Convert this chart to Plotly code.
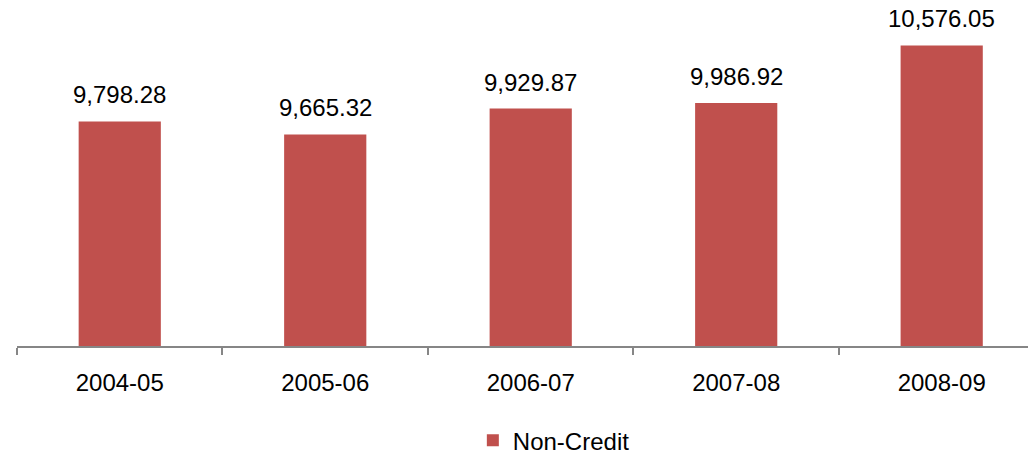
import plotly.graph_objects as go

categories = ["2004-05", "2005-06", "2006-07", "2007-08", "2008-09"]
non_credit = [9798.28, 9665.32, 9929.87, 9986.92, 10576.05]

FONT = "Liberation Sans, Arial"

fig = go.Figure()
fig.add_trace(go.Bar(
    x=categories, y=non_credit, name="Non-Credit",
    marker=dict(color="#C0504D", line=dict(width=0)),
    cliponaxis=False,
))

for c, v in zip(categories, non_credit):
    fig.add_annotation(x=c, y=v, text=f"{v:,.2f}", showarrow=False,
                       yanchor="bottom", yshift=11,
                       font=dict(family=FONT, size=24, color="#000000"))

fig.update_layout(
    width=1028, height=454,
    margin=dict(l=17, r=0, t=4, b=108, autoexpand=False),
    paper_bgcolor="white", plot_bgcolor="white",
    bargap=0.6,
    showlegend=True,
    legend=dict(orientation="h", x=0.531, xanchor="center", y=-0.277, yanchor="middle",
                font=dict(family=FONT, size=24, color="#000000"),
                itemwidth=30),
    font=dict(family=FONT, size=24, color="#000000"),
)
fig.update_xaxes(
    type="category", range=[-0.5, 4.42], automargin=False,
    showline=True, linecolor="#868686", linewidth=2,
    ticks="outside", tickson="boundaries", ticklen=7, tickcolor="#868686", tickwidth=2,
    showgrid=False, tickfont=dict(family=FONT, size=24, color="#000000"),
    ticklabelstandoff=14,
)
fig.update_yaxes(range=[7500, 11000], visible=False, showgrid=False, automargin=False)

fig.write_html("out.html", config={"displayModeBar": False},
               post_script="document.body.style.margin='0';")
